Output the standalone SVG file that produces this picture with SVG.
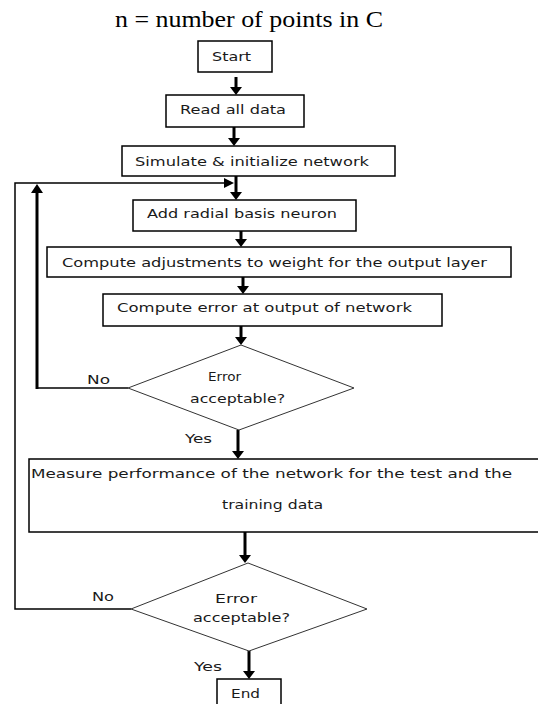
<svg xmlns="http://www.w3.org/2000/svg" width="538" height="704" viewBox="0 0 538 704">
<style>
.box{fill:#fff;stroke:#000;stroke-width:1.5}
.dia{fill:#fff;stroke:#333;stroke-width:1}
.t{font-family:"DejaVu Sans","Liberation Sans",sans-serif;font-size:12.5px;fill:#1a1a1a}
.title{font-family:"Liberation Serif","Times New Roman",serif;font-size:24px;fill:#000}
.thick{fill:none;stroke:#000;stroke-width:3}
.thin{fill:none;stroke:#000;stroke-width:1.5}
.head{fill:#000}
</style>
<rect width="538" height="704" fill="#fff"/>
<text class="title" x="115" y="27" textLength="268" lengthAdjust="spacingAndGlyphs">n = number of points in C</text>

<g id="connectors">
  <line class="thick" x1="236" y1="77" x2="236" y2="88"/>
  <polygon class="head" points="230,87 242,87 236,95"/>
  <line class="thick" x1="234" y1="127" x2="234" y2="139"/>
  <polygon class="head" points="228,138 240,138 234,146"/>
  <line class="thick" x1="236" y1="176" x2="236" y2="193"/>
  <polygon class="head" points="230,192 242,192 236,200"/>
  <line class="thick" x1="241" y1="231" x2="241" y2="240"/>
  <polygon class="head" points="235,239 247,239 241,247"/>
  <line class="thick" x1="243" y1="277" x2="243" y2="287"/>
  <polygon class="head" points="237,286 249,286 243,294"/>
  <line class="thick" x1="241" y1="326" x2="241" y2="338"/>
  <polygon class="head" points="235,337 247,337 241,345"/>
  <line class="thick" x1="238" y1="430" x2="238" y2="452"/>
  <polygon class="head" points="232,451 244,451 238,459"/>
  <line class="thick" x1="245" y1="532" x2="245" y2="556"/>
  <polygon class="head" points="239,555 251,555 245,563"/>
  <line class="thick" x1="249" y1="651" x2="249" y2="672"/>
  <polygon class="head" points="243,671 255,671 249,679"/>
  <polyline class="thin" points="128,388 37,388"/>
  <line class="thick" x1="37" y1="389" x2="37" y2="191"/>
  <polygon class="head" points="31,193 43,193 37,184"/>
  <polyline class="thin" points="131,609 15,609 15,183 226,183"/>
  <polygon class="head" points="224,178 224,188 234,183"/>
  <text class="t" x="87" y="384" textLength="23" lengthAdjust="spacingAndGlyphs">No</text>
  <text class="t" x="185" y="443" textLength="27" lengthAdjust="spacingAndGlyphs">Yes</text>
  <text class="t" x="92" y="601" textLength="22" lengthAdjust="spacingAndGlyphs">No</text>
  <text class="t" x="194" y="671" textLength="28" lengthAdjust="spacingAndGlyphs">Yes</text>
</g>

<g id="start">
  <rect class="box" x="198" y="41" width="74" height="31"/>
  <text class="t" x="212" y="61" textLength="39" lengthAdjust="spacingAndGlyphs">Start</text>
</g>
<g id="read">
  <rect class="box" x="166" y="95" width="138" height="32"/>
  <text class="t" x="180" y="114" textLength="106" lengthAdjust="spacingAndGlyphs">Read all data</text>
</g>
<g id="simulate">
  <rect class="box" x="122" y="146" width="273" height="30"/>
  <text class="t" x="135" y="166" textLength="234" lengthAdjust="spacingAndGlyphs">Simulate &amp; initialize network</text>
</g>
<g id="add">
  <rect class="box" x="133" y="200" width="223" height="31"/>
  <text class="t" x="147" y="218" textLength="190" lengthAdjust="spacingAndGlyphs">Add radial basis neuron</text>
</g>
<g id="adjust">
  <rect class="box" x="47" y="247" width="464" height="30"/>
  <text class="t" x="62" y="267" textLength="425" lengthAdjust="spacingAndGlyphs">Compute adjustments to weight for the output layer</text>
</g>
<g id="error">
  <rect class="box" x="103" y="294" width="339" height="32"/>
  <text class="t" x="117" y="312" textLength="295" lengthAdjust="spacingAndGlyphs">Compute error at output of network</text>
</g>
<g id="decision1">
  <polygon class="dia" points="241,345 354,388 239,430 128,388"/>
  <text class="t" x="208" y="381" textLength="33" lengthAdjust="spacingAndGlyphs">Error</text>
  <text class="t" x="190" y="403" textLength="95" lengthAdjust="spacingAndGlyphs">acceptable?</text>
</g>
<g id="measure">
  <rect class="box" x="29" y="459" width="520" height="73"/>
  <text class="t" x="31" y="478" textLength="481" lengthAdjust="spacingAndGlyphs">Measure performance of the network for the test and the</text>
  <text class="t" x="222" y="509" textLength="101" lengthAdjust="spacingAndGlyphs">training data</text>
</g>
<g id="decision2">
  <polygon class="dia" points="248,563 367,609 249,651 131,609"/>
  <text class="t" x="215" y="603" textLength="42" lengthAdjust="spacingAndGlyphs">Error</text>
  <text class="t" x="193" y="622" textLength="97" lengthAdjust="spacingAndGlyphs">acceptable?</text>
</g>
<g id="end">
  <rect class="box" x="217" y="679" width="64" height="35"/>
  <text class="t" x="231" y="698" textLength="29" lengthAdjust="spacingAndGlyphs">End</text>
</g>
</svg>
